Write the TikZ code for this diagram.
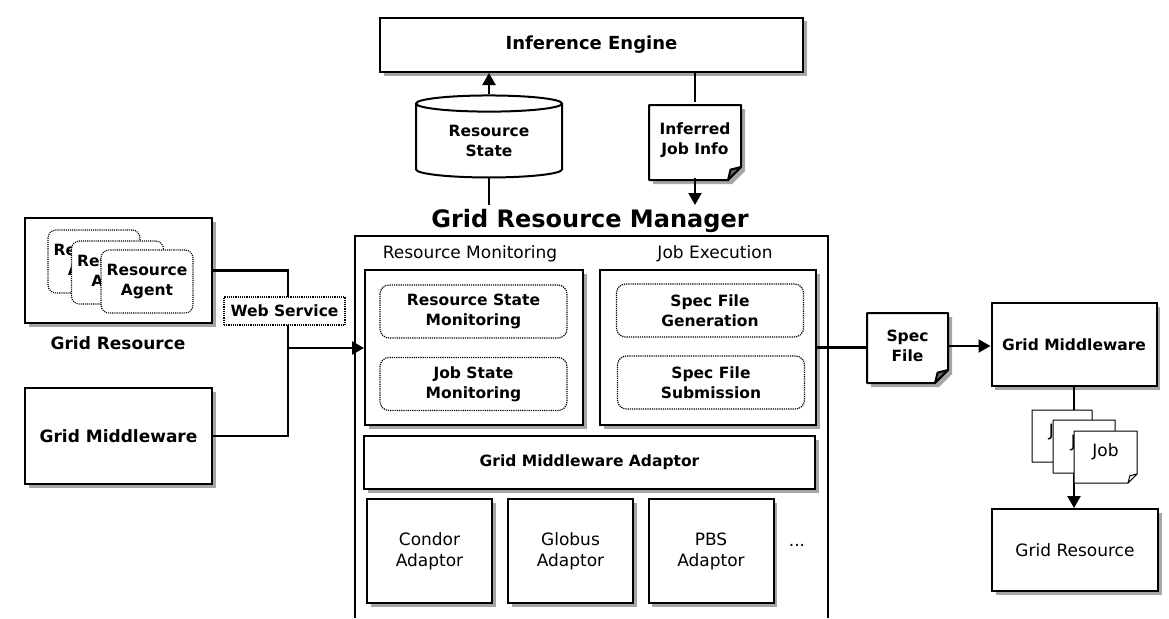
\documentclass[tikz,border=0pt]{standalone}
\usepackage{fontspec}
\setmainfont{DejaVu Sans}
\usetikzlibrary{shapes.geometric,shadows,arrows.meta}

% Document outline with a folded lower right corner.
% #1,#2 centre  #3,#4 width,height  #5 fold  #6 outline style  #7 shadow style  #8 fold fill
\newcommand\docpath[8]{%
  \begin{scope}[shift={(#1,#2)}]
    \pgfmathsetmacro\pdl{-(#3)/2}%
    \pgfmathsetmacro\pdr{(#3)/2}%
    \pgfmathsetmacro\pdt{-(#4)/2}%
    \pgfmathsetmacro\pdb{(#4)/2}%
    \pgfmathsetmacro\pdf{#5}%
    \fill[#7] (\pdl+4,\pdt+4) -- (\pdr+4,\pdt+4) -- (\pdr+4,\pdb+4-\pdf)
      -- (\pdr+4-\pdf,\pdb+4) -- (\pdl+4,\pdb+4) -- cycle;
    \draw[#6, fill=white] (\pdl,\pdt) -- (\pdr,\pdt) -- (\pdr,\pdb-\pdf)
      -- (\pdr-\pdf,\pdb) -- (\pdl,\pdb) -- cycle;
    \draw[#6, fill=#8] (\pdr,\pdb-\pdf) -- (\pdr-\pdf,\pdb)
      -- (\pdr-0.8*\pdf,\pdb-0.8*\pdf) -- cycle;
  \end{scope}}

\begin{document}
\begin{tikzpicture}[x=1pt,y=-1pt,
  every node/.style={inner sep=0pt, align=center},
  reg/.style={font=\fontsize{17}{21}\selectfont},
  bld/.style={font=\fontsize{15.5}{20}\selectfont\bfseries},
  bldbig/.style={font=\fontsize{17}{21}\selectfont\bfseries},
  thickbox/.style={draw, line width=2pt, fill=white},
  shadowed/.style={drop shadow={shadow xshift=3.5pt, shadow yshift=-3.5pt,
      fill=black!35, opacity=1}},
  roundbox/.style={draw, line width=1.2pt, densely dotted, rounded corners=9pt,
      fill=white, minimum width=187, minimum height=53, bld},
  agentbox/.style={draw, line width=1.1pt, densely dotted, rounded corners=8pt,
      fill=white, minimum width=92, minimum height=63, bld},
  adaptor/.style={thickbox, shadowed, minimum width=125, minimum height=104, reg},
  link/.style={line width=2.2pt},
  arr/.style={link, -{Triangle[width=13pt,length=12pt]}},
  docshadow/.style={fill=black!35},
  heavyline/.style={line width=2pt, line join=round},
  thinline/.style={line width=1pt, line join=round}]

\fill[white] (0,0) rectangle (1169,618);
\useasboundingbox (0,0) rectangle (1169,618);

% ---------- top: inference engine and its stores ----------
\node[thickbox, shadowed, minimum width=423, minimum height=54,
      font=\fontsize{18}{22}\selectfont\bfseries] (ie) at (591.5,45) {Inference Engine};

\node[cylinder, shape border rotate=90, aspect=0.2, draw, line width=2pt, fill=white,
      minimum width=146, minimum height=82, bld] (rs) at (489,141) {Resource\\State};

\docpath{695}{142.5}{92}{75}{13}{heavyline}{docshadow}{black!60}
\node[minimum width=92, minimum height=75, bld] (ij) at (695,140) {Inferred\\Job Info};

\coordinate (titletop) at (590,205);
\draw[arr] (rs.north) -- (rs.north |- ie.south);
\draw[link] (rs.south) -- (rs.south |- titletop);
\draw[link] (ij.north |- ie.south) -- (ij.north);
\draw[arr] (ij.south) -- (ij.south |- titletop);

% ---------- grid resource manager ----------
\node[font=\fontsize{24}{28}\selectfont\bfseries] (grm) at (590,221) {Grid Resource Manager};
\draw[line width=2pt] (355,618) |- (828,236) -- (828,618);

\node[reg] (rmlab) at (470,254) {Resource Monitoring};
\node[reg] (jelab) at (715,254) {Job Execution};

\node[thickbox, shadowed, minimum width=218, minimum height=155] (rm) at (474,347.5) {};
\node[thickbox, shadowed, minimum width=216, minimum height=155] (je) at (708,347.5) {};

\node[roundbox] (rsm) at (473.5,311.5) {Resource State\\Monitoring};
\node[roundbox] (jsm) at (473.5,384) {Job State\\Monitoring};
\node[roundbox] (sfg) at (710,310.5) {Spec File\\Generation};
\node[roundbox] (sfs) at (711,382.5) {Spec File\\Submission};

\node[thickbox, shadowed, minimum width=451, minimum height=53, bld] (gma)
  at (589.5,462.5) {Grid Middleware Adaptor};

\node[adaptor] (condor) at (429.5,551) {Condor\\Adaptor};
\node[adaptor] (globus) at (570.5,551) {Globus\\Adaptor};
\node[adaptor] (pbs) at (711,551) {PBS\\Adaptor};
\node[reg] (more) at (797,545) {...};

% ---------- left: resources and middleware ----------
\node[thickbox, shadowed, minimum width=187, minimum height=105] (gres) at (118.5,270.5) {};
\node[agentbox] (a1) at (94,261.5) {Resource\\Agent};
\node[agentbox] (a2) at (117.5,272.5) {Resource\\Agent};
\node[agentbox] (a3) at (147,281.5) {Resource\\Agent};
\node[bldbig] (grescap) at (118,343) {Grid Resource};

\node[thickbox, shadowed, minimum width=187, minimum height=96, bldbig] (gmid)
  at (118.5,436) {Grid Middleware};

\coordinate (bus) at (288,348);
\draw[link] (gres.east) -| (bus);
\draw[link] (gmid.east) -| (bus);
\draw[arr] (bus) -- (bus -| rm.west);
\node[draw, densely dotted, line width=1.2pt, fill=white, minimum width=121,
      minimum height=28, bld] (ws) at (284.5,311) {Web Service};

% ---------- right: submission path ----------
\docpath{907.5}{348}{81}{70}{13}{heavyline}{docshadow}{black!60}
\node[minimum width=81, minimum height=70, bld] (spec) at (907.5,346) {Spec\\File};

\node[thickbox, shadowed, minimum width=165, minimum height=83, bld] (gm2)
  at (1074,344.5) {Grid Middleware};
\node[thickbox, shadowed, minimum width=166, minimum height=82, reg] (gr2)
  at (1075,550) {Grid Resource};

\draw[link] (je.east) -- (spec.west |- je.east);
\draw[arr] (spec.east) -- (spec.east -| gm2.west);
\draw[arr] (gm2.south) -- (gm2.south |- gr2.north);

\docpath{1062}{436}{60}{52}{9}{thinline}{fill=none}{white}
\node[minimum width=60, minimum height=52, reg] (j1) at (1062,432) {Job};
\docpath{1084}{446.5}{62}{53}{9}{thinline}{fill=none}{white}
\node[minimum width=62, minimum height=53, reg] (j2) at (1084,442.5) {Job};
\docpath{1105.5}{457}{63}{52}{9}{thinline}{fill=none}{white}
\node[minimum width=63, minimum height=52, reg] (j3) at (1105.5,452) {Job};

\end{tikzpicture}
\end{document}
